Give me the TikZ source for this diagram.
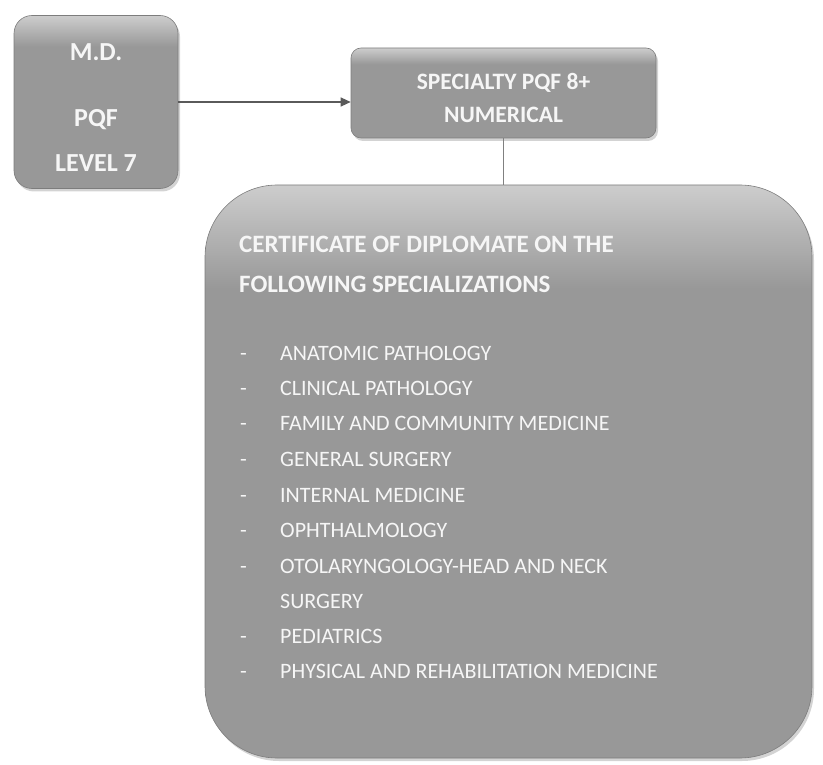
\documentclass[tikz,border=0pt]{standalone}
\usepackage{fontspec}
\setmainfont{Carlito}
\usetikzlibrary{shadows, arrows.meta}

\definecolor{boxgrey}{RGB}{152,152,152}
\definecolor{boxtop}{RGB}{205,205,205}
\definecolor{boxedge}{RGB}{125,125,125}
\definecolor{boxtext}{RGB}{246,246,246}
\definecolor{linkgrey}{RGB}{90,90,90}
\pgfdeclareverticalshading{greyshade}{100bp}{color(0bp)=(boxgrey); color(25bp)=(boxgrey);
  color(66bp)=(boxgrey); color(75bp)=(boxtop); color(100bp)=(boxtop)}

\begin{document}
\begin{tikzpicture}[x=1pt, y=-1pt,
  greybox/.style={draw=boxedge, line width=0.6pt, shading=greyshade,
    drop shadow={opacity=0.35, shadow xshift=2pt, shadow yshift=-3pt}, inner sep=0pt},
  boxlabel/.style={text=boxtext, align=center, inner sep=0pt},
  headtext/.style={text=boxtext, font=\bfseries\fontsize{25}{30}\selectfont, anchor=base west, inner sep=0pt},
  listtext/.style={text=boxtext, font=\fontsize{22}{26}\selectfont, anchor=base west, inner sep=0pt}]

\useasboundingbox (0,0) rectangle (823,765);

\node[greybox, rounded corners=18pt, minimum width=164pt, minimum height=173pt] (md) at (96,102) {};
\node[greybox, rounded corners=10pt, minimum width=305pt, minimum height=90pt] (spec) at (503.5,93) {};
\node[greybox, rounded corners=72pt, minimum width=607pt, minimum height=573pt] (cert) at (508.5,471.5) {};

\node[boxlabel, font=\bfseries\fontsize{26}{45}\selectfont] (mdtext) at ([yshift=-6pt]md.center)
  {M.D.\\[21pt]PQF\\LEVEL 7};
\node[boxlabel, font=\bfseries\fontsize{23.5}{33}\selectfont] (spectext) at ([yshift=-5pt]spec.center)
  {SPECIALTY PQF 8+\\NUMERICAL};

\draw[linkgrey, line width=1.2pt, -{Triangle[length=10pt, width=9pt]}] (md.east) -- (md.east -| spec.west);
\draw[gray, line width=0.5pt] (spec.south) -- (spec.south |- cert.north);

% heading
\node[headtext] (head1) at (239,252) {CERTIFICATE OF DIPLOMATE ON THE};
\node[headtext] (head2) at (239,293) {FOLLOWING SPECIALIZATIONS};

% specializations
\foreach \y/\d/\txt [count=\i] in {360/-/ANATOMIC PATHOLOGY, 395/-/CLINICAL PATHOLOGY,
    430/-/FAMILY AND COMMUNITY MEDICINE, 466/-/GENERAL SURGERY, 502/-/INTERNAL MEDICINE,
    537/-/OPHTHALMOLOGY, 573/-/OTOLARYNGOLOGY-HEAD AND NECK, 608//SURGERY,
    643/-/PEDIATRICS, 678/-/PHYSICAL AND REHABILITATION MEDICINE}{
  \node[listtext] (dash\i) at (240,\y) {\d};
  \node[listtext] (item\i) at (280,\y) {\txt};
}
\end{tikzpicture}
\end{document}
